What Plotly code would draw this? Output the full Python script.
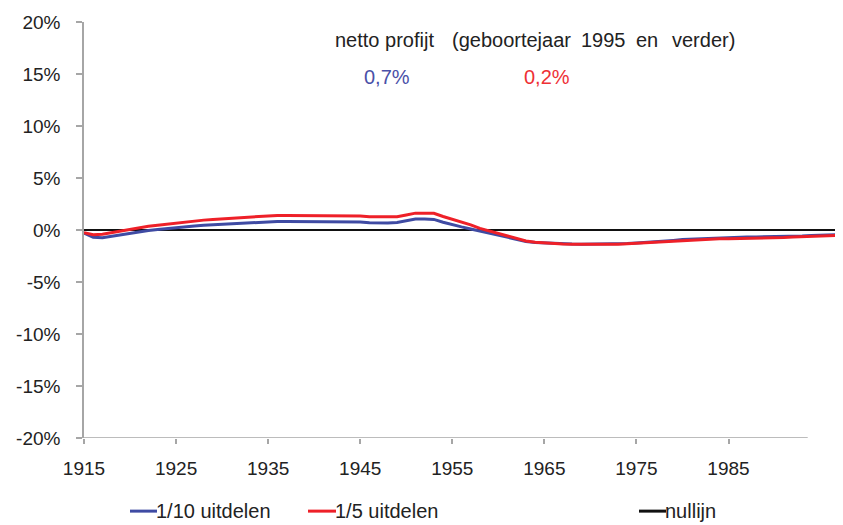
import plotly.graph_objects as go

years = list(range(1915, 1998))

blue_1_10 = [
    -0.30, -0.70, -0.75, -0.60, -0.45, -0.30, -0.15, -0.05, 0.05, 0.15,   # 1915-1924
    0.25, 0.32, 0.38, 0.45, 0.50, 0.55, 0.60, 0.65, 0.70, 0.75,           # 1925-1934
    0.80, 0.82, 0.82, 0.82, 0.82, 0.82, 0.82, 0.82, 0.82, 0.80,           # 1935-1944
    0.78, 0.70, 0.68, 0.68, 0.72, 0.85, 1.05, 1.05, 1.02, 0.75,           # 1945-1954
    0.50, 0.30, 0.10, -0.10, -0.30, -0.50, -0.70, -0.90, -1.10, -1.20,    # 1955-1964
    -1.25, -1.30, -1.33, -1.35, -1.36, -1.36, -1.36, -1.36, -1.35, -1.30, # 1965-1974
    -1.25, -1.20, -1.15, -1.10, -1.00, -0.92, -0.88, -0.84, -0.80, -0.78, # 1975-1984
    -0.75, -0.70, -0.68, -0.67, -0.66, -0.65, -0.63, -0.60, -0.57, -0.53, # 1985-1994
    -0.50, -0.47, -0.44,                                                  # 1995-1997
]

red_1_5 = [
    -0.25, -0.45, -0.40, -0.25, -0.10, 0.10, 0.25, 0.35, 0.45, 0.55,      # 1915-1924
    0.70, 0.80, 0.88, 0.95, 1.02, 1.08, 1.15, 1.22, 1.28, 1.33,           # 1925-1934
    1.37, 1.40, 1.40, 1.40, 1.40, 1.40, 1.40, 1.40, 1.40, 1.40,           # 1935-1944
    1.35, 1.27, 1.25, 1.25, 1.28, 1.45, 1.62, 1.62, 1.60, 1.30,           # 1945-1954
    1.05, 0.80, 0.50, 0.15, -0.10, -0.35, -0.60, -0.85, -1.05, -1.18,     # 1955-1964
    -1.25, -1.30, -1.34, -1.36, -1.37, -1.37, -1.37, -1.37, -1.36, -1.33, # 1965-1974
    -1.28, -1.24, -1.20, -1.15, -1.08, -1.00, -0.95, -0.92, -0.88, -0.85, # 1975-1984
    -0.83, -0.82, -0.80, -0.78, -0.76, -0.74, -0.72, -0.68, -0.64, -0.60, # 1985-1994
    -0.57, -0.54, -0.52,                                                  # 1995-1997
]

zero_line = [0.0] * len(years)

x_ticks = [1915, 1925, 1935, 1945, 1955, 1965, 1975, 1985]
y_ticks = [-20, -15, -10, -5, 0, 5, 10, 15, 20]
y_tick_labels = [f"{v}%" for v in y_ticks]

title_parts = ["netto profijt", "(geboortejaar", "1995", "en", "verder)"]
profit_blue = "0,7%"
profit_red = "0,2%"

legend_names = ["1/10 uitdelen", "1/5 uitdelen", "nullijn"]

BLUE = "#3F4BA3"
RED = "#EE2028"
BLACK = "#111111"
AXIS_GRAY = "#A6A6A6"
TEXT = "#222222"
FONT = "Liberation Sans, Arial, sans-serif"
FS = 19
FS_TEXT = 20

# plot area in window pixels: x 84..839, y 17..438 (page has an 8px body margin)
PX0, PW = 84, 755
PY1, PH = 438, 421
PAD = 3  # annotation inner padding


def px(x):
    return (x - PX0) / PW


def py(y):
    return (PY1 - y) / PH


fig = go.Figure()
fig.add_trace(go.Scatter(x=years, y=zero_line, mode="lines", name=legend_names[2],
                         line=dict(color=BLACK, width=2.2), showlegend=False, hoverinfo="skip"))
fig.add_trace(go.Scatter(x=years, y=blue_1_10, mode="lines", name=legend_names[0],
                         line=dict(color=BLUE, width=3), showlegend=False))
fig.add_trace(go.Scatter(x=years, y=red_1_5, mode="lines", name=legend_names[1],
                         line=dict(color=RED, width=3), showlegend=False))

# x-axis base line (stops short of the plot's right edge, as in the reference)
fig.add_shape(type="line", xref="x", yref="y", x0=1915, x1=1993.6, y0=-20, y1=-20,
              line=dict(color=AXIS_GRAY, width=1.5), layer="below")

# manual legend at the bottom
legend_items = [
    (legend_names[0], BLUE, 130, 157),
    (legend_names[1], RED, 308, 336),
    (legend_names[2], BLACK, 639, 666),
]
for name, col, lx0, tx in legend_items:
    fig.add_shape(type="line", xref="paper", yref="paper",
                  x0=px(lx0), x1=px(tx), y0=py(512), y1=py(512),
                  line=dict(color=col, width=3))
    fig.add_annotation(text=name, xref="paper", yref="paper",
                       x=px(tx - PAD), y=py(512), xanchor="left", yanchor="middle",
                       showarrow=False, font=dict(family=FONT, size=FS_TEXT, color=TEXT))

title_x = [336, 453, 582, 637, 673]
for part, tx in zip(title_parts, title_x):
    fig.add_annotation(text=part, xref="paper", yref="paper",
                       x=px(tx - PAD), y=py(35), xanchor="left", yanchor="middle",
                       showarrow=False, font=dict(family=FONT, size=FS_TEXT, color=TEXT))
fig.add_annotation(text=profit_blue, xref="paper", yref="paper",
                   x=px(387), y=py(73), xanchor="center", yanchor="middle",
                   showarrow=False, font=dict(family=FONT, size=FS_TEXT, color="#4A50A8"))
fig.add_annotation(text=profit_red, xref="paper", yref="paper",
                   x=px(547), y=py(73), xanchor="center", yanchor="middle",
                   showarrow=False, font=dict(family=FONT, size=FS_TEXT, color="#EE3035"))

fig.update_layout(
    width=835, height=517,
    margin=dict(l=76, r=4, t=9, b=87),
    paper_bgcolor="white", plot_bgcolor="white",
    showlegend=False,
    font=dict(family=FONT, size=FS, color=TEXT),
    xaxis=dict(range=[1915, 1997], tickmode="array", tickvals=x_ticks,
               ticktext=[str(v) for v in x_ticks],
               showgrid=False, zeroline=False, showline=False,
               ticks="outside", ticklen=5, tickcolor=AXIS_GRAY, tickwidth=1.5,
               ticklabelstandoff=8, ticklabeloverflow="allow",
               tickfont=dict(family=FONT, size=FS, color=TEXT)),
    yaxis=dict(range=[-20, 20], tickmode="array", tickvals=y_ticks, ticktext=y_tick_labels,
               showgrid=False, zeroline=False, showline=True, linecolor=AXIS_GRAY, linewidth=1.5,
               ticks="outside", ticklen=6, tickcolor=AXIS_GRAY, tickwidth=1.5,
               ticklabelstandoff=12, ticklabeloverflow="allow",
               tickfont=dict(family=FONT, size=FS, color=TEXT)),
)

fig.write_html("out.html")
